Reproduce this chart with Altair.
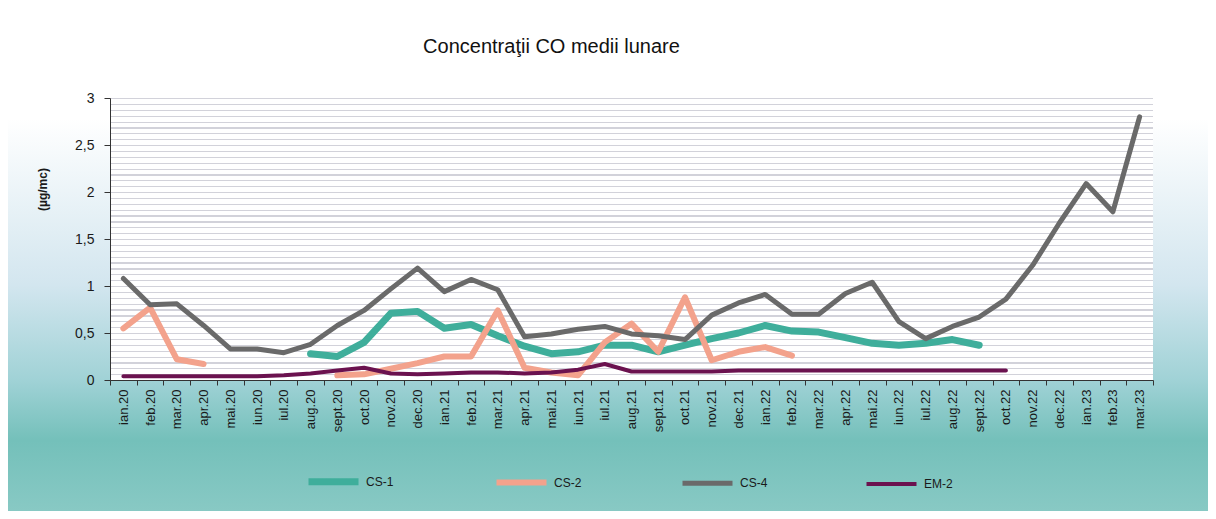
import altair as alt
import pandas as pd

months = ["ian.20", "feb.20", "mar.20", "apr.20", "mai.20", "iun.20", "iul.20", "aug.20",
          "sept.20", "oct.20", "nov.20", "dec.20", "ian.21", "feb.21", "mar.21", "apr.21",
          "mai.21", "iun.21", "iul.21", "aug.21", "sept.21", "oct.21", "nov.21", "dec.21",
          "ian.22", "feb.22", "mar.22", "apr.22", "mai.22", "iun.22", "iul.22", "aug.22",
          "sept.22", "oct.22", "nov.22", "dec.22", "ian.23", "feb.23", "mar.23"]

cs1 = [None, None, None, None, None, None, None, 0.28,
       0.25, 0.40, 0.71, 0.73, 0.55, 0.59, 0.47, 0.36,
       0.28, 0.30, 0.37, 0.37, 0.30, 0.37, 0.44, 0.50,
       0.58, 0.52, 0.51, 0.45, 0.39, 0.37, 0.39, 0.43,
       0.37, None, None, None, None, None, None]

cs2 = [0.55, 0.77, 0.22, 0.17, None, None, None, None,
       0.05, 0.06, 0.12, 0.18, 0.25, 0.25, 0.74, 0.13,
       0.08, 0.05, 0.40, 0.60, 0.30, 0.88, 0.21, 0.30,
       0.35, 0.26, None, None, None, None, None, None,
       None, None, None, None, None, None, None]

cs4 = [1.08, 0.80, 0.81, 0.58, 0.33, 0.33, 0.29, 0.38,
       0.58, 0.74, 0.97, 1.19, 0.94, 1.07, 0.96, 0.46,
       0.49, 0.54, 0.57, 0.49, 0.47, 0.43, 0.69, 0.82,
       0.91, 0.70, 0.70, 0.92, 1.04, 0.62, 0.44, 0.57,
       0.67, 0.86, 1.22, 1.67, 2.09, 1.79, 2.80]

em2 = [0.04, 0.04, 0.04, 0.04, 0.04, 0.04, 0.05, 0.07,
       0.10, 0.13, 0.07, 0.06, 0.07, 0.08, 0.08, 0.07,
       0.08, 0.11, 0.17, 0.09, 0.09, 0.09, 0.09, 0.10,
       0.10, 0.10, 0.10, 0.10, 0.10, 0.10, 0.10, 0.10,
       0.10, 0.10, None, None, None, None, None]

series_names = ["CS-1", "CS-2", "CS-4", "EM-2"]
series_colors = ["#3fae9b", "#f3a28c", "#6a6a6a", "#6b124f"]
series_widths = [7, 4, 7, 7]
y_ticks = [0, 0.5, 1, 1.5, 2, 2.5, 3]

rows = []
for name, vals in zip(series_names, [cs1, cs2, cs4, em2]):
    for m, v in zip(months, vals):
        rows.append({"luna": m, "serie": name, "valoare": v})
df = pd.DataFrame(rows)

W, H = 1043, 282
PAD = {"left": 102, "top": 90, "right": 55, "bottom": 131}

# page background gradient (white top -> teal bottom)
bg_gradient = alt.LinearGradient(
    gradient="linear", x1=0, y1=0, x2=0, y2=1,
    stops=[
        alt.GradientStop(offset=0.0, color="#ffffff"),
        alt.GradientStop(offset=0.22, color="#ffffff"),
        alt.GradientStop(offset=0.55, color="#d3e6ef"),
        alt.GradientStop(offset=0.74, color="#a0d2d6"),
        alt.GradientStop(offset=0.86, color="#74c0ba"),
        alt.GradientStop(offset=1.0, color="#88c9c4"),
    ],
)

# plot-area striped fill
stripe_stops = []
n_str = 48
w = 1.2 / H
for k in range(n_str):
    o = k / n_str
    stripe_stops += [
        alt.GradientStop(offset=o, color="#d2d2da"),
        alt.GradientStop(offset=o + w, color="#d2d2da"),
        alt.GradientStop(offset=o + w, color="#ffffff"),
        alt.GradientStop(offset=(k + 1) / n_str, color="#ffffff"),
    ]
plot_gradient = alt.LinearGradient(gradient="linear", x1=0, y1=0, x2=0, y2=1, stops=stripe_stops)

one = pd.DataFrame({"a": [0]})
bg = alt.Chart(one).mark_rect(fill=bg_gradient).encode(
    x=alt.value(-PAD["left"]), x2=alt.value(W + PAD["right"]),
    y=alt.value(-PAD["top"]), y2=alt.value(H + PAD["bottom"]),
)
plotrect = alt.Chart(one).mark_rect(fill=plot_gradient).encode(
    x=alt.value(0), x2=alt.value(W), y=alt.value(0), y2=alt.value(H),
)

lines = alt.Chart(df).mark_line(
    invalid="break-paths-show-domains", strokeJoin="round", strokeCap="round"
).encode(
    x=alt.X(
        "luna:N", sort=months, bandPosition=0.5,
        scale=alt.Scale(type="band", paddingInner=0, paddingOuter=0),
        axis=alt.Axis(
            title=None, labelAngle=-90, labelFontSize=13, labelColor="#1a1a1a",
            labelPadding=4, tickSize=5, tickBand="extent", domainColor="#333",
            tickColor="#333", grid=False, zindex=1,
        ),
    ),
    y=alt.Y(
        "valoare:Q",
        scale=alt.Scale(domain=[0, 3], nice=False),
        axis=alt.Axis(
            values=y_ticks, format="~g", labelExpr="replace(datum.label, '.', ',')",
            title="(µg/mc)", titleFontSize=12, titleFontWeight="bold", titleColor="#1a1a1a",
            titleX=-68, titleY=91, titleAlign="center", titleBaseline="middle",
            labelFontSize=14, labelColor="#1a1a1a", labelPadding=10, tickSize=6,
            domainColor="#333", tickColor="#333", grid=False, zindex=1,
        ),
    ),
    color=alt.Color(
        "serie:N",
        scale=alt.Scale(domain=series_names, range=series_colors),
        legend=alt.Legend(
            title=None, orient="none", legendX=195, legendY=355,
            direction="horizontal", columns=4, symbolType="stroke", symbolSize=2500,
            symbolStrokeWidth=5, labelFontSize=12, labelColor="#1a1a1a", labelOffset=4,
            columnPadding=90, padding=0,
        ),
    ),
    strokeWidth=alt.StrokeWidth(
        "serie:N", scale=alt.Scale(domain=series_names, range=series_widths), legend=None
    ),
)

chart = alt.layer(bg, plotrect, lines).properties(
    width=W, height=H,
    autosize=alt.AutoSizeParams(type="none"),
    padding=PAD,
    background="#ffffff",
    title=alt.TitleParams(
        "Concentraţii CO medii lunare", fontSize=20, fontWeight="normal", color="#111",
        anchor="middle", dx=-80, dy=49, offset=0, frame="group",
    ),
).configure(font="Liberation Sans").configure_view(stroke=None)

chart.save("out.html", embed_options={"renderer": "svg", "actions": False})
